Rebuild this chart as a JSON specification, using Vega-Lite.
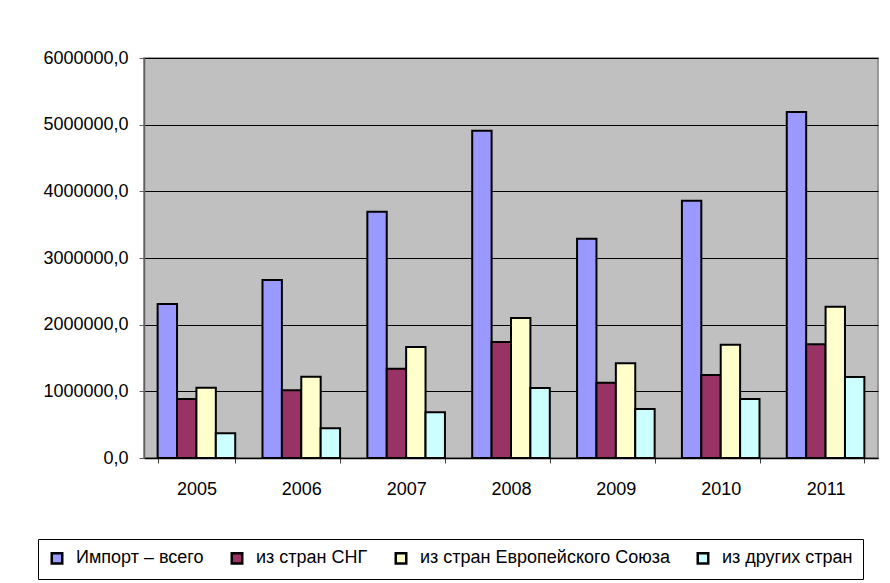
{
  "$schema": "https://vega.github.io/schema/vega-lite/v6.json",
  "width": 734,
  "height": 400,
  "autosize": {"type": "none"},
  "padding": {"left": 144, "top": 58, "right": 12, "bottom": 125},
  "background": "white",
  "config": {
    "font": "Liberation Sans",
    "view": {"fill": "#C0C0C0", "stroke": "#808080", "strokeWidth": 1.5}
  },
  "data": {
    "values": [
      {"year": "2005", "series": "Импорт – всего", "value": 2310000},
      {"year": "2005", "series": "из стран СНГ", "value": 885000},
      {"year": "2005", "series": "из стран Европейского Союза", "value": 1055000},
      {"year": "2005", "series": "из других стран", "value": 370000},
      {"year": "2006", "series": "Импорт – всего", "value": 2670000},
      {"year": "2006", "series": "из стран СНГ", "value": 1015000},
      {"year": "2006", "series": "из стран Европейского Союза", "value": 1220000},
      {"year": "2006", "series": "из других стран", "value": 445000},
      {"year": "2007", "series": "Импорт – всего", "value": 3695000},
      {"year": "2007", "series": "из стран СНГ", "value": 1340000},
      {"year": "2007", "series": "из стран Европейского Союза", "value": 1665000},
      {"year": "2007", "series": "из других стран", "value": 685000},
      {"year": "2008", "series": "Импорт – всего", "value": 4910000},
      {"year": "2008", "series": "из стран СНГ", "value": 1740000},
      {"year": "2008", "series": "из стран Европейского Союза", "value": 2100000},
      {"year": "2008", "series": "из других стран", "value": 1050000},
      {"year": "2009", "series": "Импорт – всего", "value": 3290000},
      {"year": "2009", "series": "из стран СНГ", "value": 1130000},
      {"year": "2009", "series": "из стран Европейского Союза", "value": 1420000},
      {"year": "2009", "series": "из других стран", "value": 735000},
      {"year": "2010", "series": "Импорт – всего", "value": 3860000},
      {"year": "2010", "series": "из стран СНГ", "value": 1245000},
      {"year": "2010", "series": "из стран Европейского Союза", "value": 1700000},
      {"year": "2010", "series": "из других стран", "value": 885000},
      {"year": "2011", "series": "Импорт – всего", "value": 5190000},
      {"year": "2011", "series": "из стран СНГ", "value": 1705000},
      {"year": "2011", "series": "из стран Европейского Союза", "value": 2270000},
      {"year": "2011", "series": "из других стран", "value": 1215000}
    ]
  },
  "mark": {"type": "bar", "stroke": "black", "strokeWidth": 2},
  "encoding": {
    "x": {
      "field": "year",
      "type": "nominal",
      "title": null,
      "scale": {"paddingInner": 0.26, "paddingOuter": 0.13},
      "axis": {
        "labelAngle": 0,
        "labelFontSize": 18,
        "labelColor": "black",
        "labelPadding": 17,
        "tickBand": "extent",
        "tickColor": "#404040",
        "tickSize": 5,
        "domainColor": "#000000",
        "domainWidth": 1.5,
        "grid": false
      }
    },
    "xOffset": {
      "field": "series",
      "type": "nominal",
      "scale": {"paddingInner": 0, "paddingOuter": 0, "domain": ["Импорт – всего", "из стран СНГ", "из стран Европейского Союза", "из других стран"]}
    },
    "y": {
      "field": "value",
      "type": "quantitative",
      "title": null,
      "scale": {"domain": [0, 6000000], "nice": false},
      "axis": {
        "values": [0, 1000000, 2000000, 3000000, 4000000, 5000000, 6000000],
        "labelExpr": "replace(format(datum.value, '.1f'), '.', ',')",
        "labelFontSize": 18,
        "labelColor": "black",
        "labelPadding": 11,
        "tickSize": 5,
        "tickColor": "#606060",
        "domainColor": "#606060",
        "domainWidth": 1.5,
        "gridColor": "black",
        "gridWidth": 1,
        "gridOpacity": 1
      }
    },
    "color": {
      "field": "series",
      "type": "nominal",
      "title": null,
      "scale": {
        "domain": ["Импорт – всего", "из стран СНГ", "из стран Европейского Союза", "из других стран"],
        "range": ["#9999FF", "#993366", "#FFFFCC", "#CCFFFF"]
      },
      "legend": {
        "orient": "none",
        "legendX": -106,
        "legendY": 481,
        "direction": "horizontal",
        "columns": 4,
        "symbolType": "square",
        "symbolSize": 110,
        "symbolStrokeColor": "black",
        "symbolStrokeWidth": 2.5,
        "symbolOpacity": 1,
        "labelFontSize": 18,
        "labelColor": "black",
        "labelLimit": 400,
        "labelOffset": 10,
        "columnPadding": 22,
        "padding": 10,
        "strokeColor": "black",
        "fillColor": "white"
      }
    }
  }
}
